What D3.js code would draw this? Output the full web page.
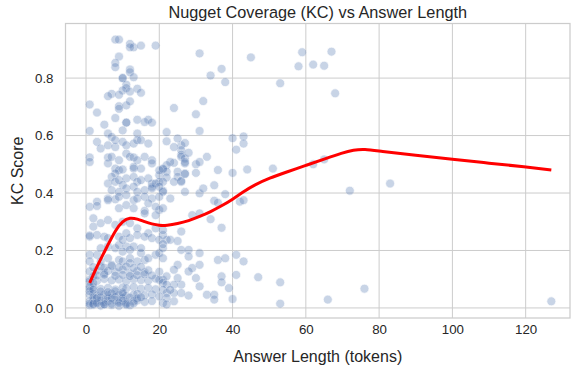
<!DOCTYPE html>
<html><head><meta charset="utf-8">
<script src="https://cdn.jsdelivr.net/npm/d3@7"></script>
<style>body{margin:0;background:#fff}svg{display:block}text{font-family:"Liberation Sans",Arial,sans-serif;fill:#262626}</style>
</head><body><div id="chart"></div>
<script>
const chartTitle = "Nugget Coverage (KC) vs Answer Length";
const xLabel = "Answer Length (tokens)";
const yLabel = "KC Score";
const xTicks = [0, 20, 40, 60, 80, 100, 120];
const yTicks = [0.0, 0.2, 0.4, 0.6, 0.8];

// scatter points: answer length (tokens)
const lengths = [
 8,9,12,13,12,15,19,9,8,8,12,12,13,10,10,11,11,10,12,14,15,7,6,9,1,3,9,11,12,9,8,11,11,5,14,17,16,18,
 24,22,26,27,26,26,
 31,45,59,67,58,62,65,37,34,38,53,68,32,30,31,40,43,43,41,26,27,27,33,30,31,36,44,51,62,65,
 40,27,26,27,31,35,32,38,35,36,42,43,72,29,31,34,37,26,26,28,28,31,36,38,41,43,29,31,28,30,26,31,37,37,41,47,53,39,33,35,40,28,26,53,66,76,35,
 83,127,
 27,24,23,22,21,22,20,20,22,25,25,24,26,27,30,21,23,20,
 1,6,7,10,14,3,4,6,8,8,10,11,13,14,15,17,1,1,6,6,7,9,11,12,13,14,16,18,8,9,8,10,13,13,15,18,20,21,
 7,6,8,9,11,10,13,14,15,17,18,18,19,21,7,9,11,13,14,16,18,20,21,6,8,9,11,13,14,16,18,20,1,3,3,6,9,11,13,16,17,19,21,16,19,
 1,1,2,1,1,3,4,6,8,9,11,10,12,13,15,15,4,6,7,9,10,12,12,14,16,17,19,20,21,21,19,17,2,4,6,8,10,12,14,14,16,18,20,3,5,6,9,10,12,11,
 1,3,5,6,8,10,12,14,16,17,20,
 1,3,5,7,9,11,13,15,17,19,21,
 1,2,4,6,8,10,11,13,15,17,19,
 1,2,3,5,6,7,9,10,11,13,14,16,18,
 1,2,3,4,5,6,8,9,10,11,13,14,16,18,
 1,2,4,5,7,9,11,12,
 1,1,1,2,2,2,
 21,22,23,25,21,25,24,25,24,24,24,21,22,20,21,22,21,22,22,21,20,23,22,
 2,3,4,6,7,8,10,12,14,15,1,2,3,5,7,9,11,13,4,6,8,10,
 2,4,5,7,9,11,13,15,3,5,8,10,12,14,16,18,24,25,28,22
];
// scatter points: KC score
const scores = [
 0.934,0.934,0.919,0.907,0.907,0.913,0.913,0.875,0.853,0.838,0.830,0.820,0.803,0.800,0.800,0.777,0.765,0.757,0.753,0.763,0.749,0.745,0.737,0.742,0.708,0.680,0.702,0.705,0.719,0.693,0.661,0.645,0.645,0.638,0.655,0.655,0.647,0.645,
 0.696,0.612,0.566,0.574,0.549,0.533,
 0.886,0.872,0.890,0.892,0.841,0.847,0.843,0.832,0.809,0.786,0.782,0.747,0.720,0.674,0.616,0.591,0.597,0.572,0.551,0.526,0.520,0.508,0.526,0.500,0.508,0.480,0.482,0.485,0.500,0.517,
 0.470,0.468,0.439,0.404,0.399,0.427,0.416,0.396,0.373,0.366,0.370,0.375,0.408,0.323,0.329,0.309,0.279,0.266,0.202,0.202,0.179,0.191,0.167,0.173,0.185,0.162,0.139,0.150,0.127,0.104,0.081,0.075,0.110,0.089,0.115,0.107,0.089,0.069,0.046,0.046,0.031,0.043,0.052,0.015,0.029,0.067,0.029,
 0.433,0.023,
 0.503,0.505,0.508,0.497,0.482,0.474,0.462,0.439,0.454,0.474,0.456,0.439,0.442,0.466,0.470,0.408,0.381,0.341,
 0.616,0.607,0.595,0.618,0.607,0.578,0.555,0.566,0.560,0.584,0.578,0.566,0.572,0.584,0.584,0.572,0.524,0.508,0.524,0.503,0.526,0.514,0.537,0.526,0.524,0.514,0.526,0.514,0.485,0.479,0.468,0.482,0.491,0.485,0.485,0.503,0.479,0.485,
 0.456,0.433,0.439,0.445,0.451,0.428,0.456,0.439,0.445,0.451,0.433,0.422,0.433,0.439,0.410,0.404,0.416,0.422,0.404,0.410,0.416,0.422,0.404,0.381,0.378,0.387,0.393,0.375,0.381,0.387,0.381,0.387,0.352,0.370,0.355,0.375,0.347,0.358,0.347,0.338,0.364,0.352,0.347,0.329,0.323,
 0.248,0.252,0.283,0.185,0.162,0.185,0.208,0.214,0.208,0.219,0.214,0.196,0.202,0.214,0.191,0.208,0.162,0.173,0.150,0.167,0.162,0.173,0.156,0.162,0.167,0.173,0.185,0.191,0.208,0.254,0.277,0.260,0.312,0.295,0.306,0.289,0.300,0.295,0.277,0.254,0.248,0.243,0.237,0.254,0.248,0.243,0.248,0.237,0.243,0.260,
 0.127,0.131,0.122,0.129,0.125,0.133,0.120,0.128,0.124,0.131,0.126,
 0.098,0.094,0.101,0.096,0.099,0.093,0.100,0.097,0.095,0.102,0.098,
 0.069,0.072,0.066,0.070,0.064,0.071,0.068,0.073,0.067,0.070,0.065,
 0.046,0.049,0.043,0.047,0.044,0.050,0.045,0.048,0.042,0.046,0.049,0.044,0.047,
 0.023,0.026,0.021,0.025,0.020,0.024,0.027,0.022,0.025,0.019,0.023,0.026,0.021,0.024,
 0.009,0.011,0.008,0.012,0.010,0.007,0.011,0.009,
 0.092,0.075,0.058,0.110,0.087,0.063,
 0.271,0.237,0.237,0.233,0.222,0.150,0.133,0.104,0.081,0.052,0.023,0.173,0.110,0.098,0.087,0.081,0.063,0.052,0.035,0.017,0.040,0.063,0.012,
 0.036,0.034,0.037,0.033,0.035,0.038,0.034,0.036,0.033,0.037,0.015,0.014,0.016,0.013,0.015,0.017,0.014,0.016,0.057,0.055,0.058,0.054,
 0.142,0.145,0.140,0.146,0.141,0.144,0.139,0.143,0.113,0.116,0.112,0.115,0.111,0.114,0.117,0.113,0.560,0.590,0.540,0.580
];

// LOWESS trend line
const trendX = [1,3,6,8,10,12,14,16,18,20,22,25,28,31,34,37,40,43,46,50,55,60,65,70,73,76,80,90,100,110,120,127];
const trendY = [0.087,0.145,0.220,0.270,0.303,0.315,0.310,0.300,0.292,0.287,0.287,0.293,0.303,0.318,0.335,0.355,0.378,0.405,0.428,0.452,0.474,0.496,0.518,0.540,0.550,0.553,0.546,0.531,0.517,0.504,0.491,0.480];

const W = 571, H = 374;
const L = 65.5, R = 570, T = 23.5, B = 318;
const FONT = '"Liberation Sans", Arial, sans-serif';
const svg = d3.select("#chart").append("svg").attr("width", W).attr("height", H);

const x = d3.scaleLinear().domain([-5.6, 132.1]).range([L, R]);
const y = d3.scaleLinear().domain([-0.035, 0.99]).range([B, T]);

// grid
const g = svg.append("g");
g.selectAll(".gx").data(xTicks).join("line")
 .attr("x1", d => x(d)).attr("x2", d => x(d)).attr("y1", T).attr("y2", B)
 .attr("stroke", "#cccccc").attr("stroke-width", 1);
g.selectAll(".gy").data(yTicks).join("line")
 .attr("y1", d => y(d)).attr("y2", d => y(d)).attr("x1", L).attr("x2", R)
 .attr("stroke", "#cccccc").attr("stroke-width", 1);

// axes (tick labels via d3 axis)
const xAxis = svg.append("g").attr("transform", `translate(0,${B})`)
 .call(d3.axisBottom(x).tickValues(xTicks).tickFormat(d3.format("d")).tickSize(0).tickPadding(7));
const yAxis = svg.append("g").attr("transform", `translate(${L},0)`)
 .call(d3.axisLeft(y).tickValues(yTicks).tickFormat(d3.format(".1f")).tickSize(0).tickPadding(12));
[xAxis, yAxis].forEach(a => {
 a.select(".domain").remove();
 a.selectAll("text").attr("font-size", 13.3).attr("fill", "#262626").style("font-family", FONT);
});

// points
const pts = lengths.map((d, i) => [d, scores[i]]);
svg.append("g").selectAll("circle").data(pts).join("circle")
 .attr("cx", d => x(d[0])).attr("cy", d => y(d[1])).attr("r", 4.5)
 .attr("fill", "#4c72b0").attr("stroke", "#ffffff").attr("stroke-width", 0.7)
 .attr("opacity", 0.3);

// trend line
const line = d3.line().x(d => x(d[0])).y(d => y(d[1])).curve(d3.curveBasis);
svg.append("path").datum(trendX.map((d, i) => [d, trendY[i]]))
 .attr("d", line).attr("fill", "none").attr("stroke", "#ff0000").attr("stroke-width", 3)
 .attr("stroke-linejoin", "round");

// frame
svg.append("rect").attr("x", L).attr("y", T).attr("width", R - L).attr("height", B - T)
 .attr("fill", "none").attr("stroke", "#cccccc").attr("stroke-width", 1.25);

// labels
svg.append("text").attr("x", (L + R) / 2).attr("y", 18).attr("text-anchor", "middle")
 .attr("font-size", 16.3).text(chartTitle);
svg.append("text").attr("x", (L + R) / 2).attr("y", 362).attr("text-anchor", "middle")
 .attr("font-size", 16).text(xLabel);
svg.append("text").attr("transform", `translate(23,${(T + B) / 2}) rotate(-90)`)
 .attr("text-anchor", "middle").attr("font-size", 16).text(yLabel);
</script></body></html>
